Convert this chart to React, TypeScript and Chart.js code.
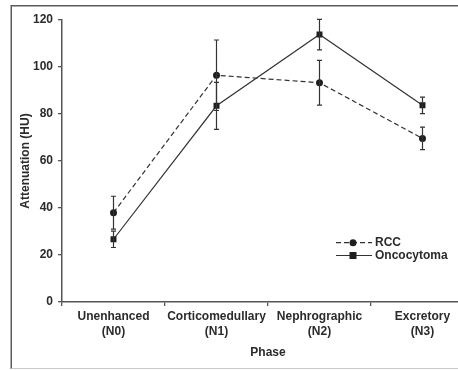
import React, { useEffect, useRef } from "react";
import { Chart, registerables } from "chart.js";

Chart.register(...registerables);

const phaseLabels: string[][] = [
  ["Unenhanced", "(N0)"],
  ["Corticomedullary", "(N1)"],
  ["Nephrographic", "(N2)"],
  ["Excretory", "(N3)"],
];
const rccMean = [38, 96.5, 93.3, 69.6];
const rccErr = [7, 15, 9.5, 4.8];
const oncMean = [26.7, 83.5, 113.8, 83.7];
const oncErr = [3.5, 10, 6.5, 3.5];
const yTicks = [0, 20, 40, 60, 80, 100, 120];
const seriesNames = ["RCC", "Oncocytoma"];

const FONT = "'Liberation Sans', Arial, Helvetica, sans-serif";
const INK = "#2b2b2b";
const LINE = "#333333";

const errors = [rccErr, oncErr];

const framePlugin = {
  id: "frame",
  beforeDraw(chart: any) {
    const ctx = chart.ctx;
    ctx.save();
    ctx.fillStyle = "#ffffff";
    ctx.fillRect(0, 0, chart.width, chart.height);
    ctx.strokeStyle = "#5a5a5a";
    ctx.lineWidth = 1.5;
    ctx.beginPath();
    ctx.moveTo(chart.width + 5, 5.75);
    ctx.lineTo(11.25, 5.75);
    ctx.lineTo(11.25, 369);
    ctx.stroke();
    ctx.strokeStyle = "#c8c8c8";
    ctx.lineWidth = 1;
    ctx.beginPath();
    ctx.moveTo(11.25, 368.5);
    ctx.lineTo(chart.width + 5, 368.5);
    ctx.stroke();
    ctx.restore();
  },
};

const errorBarPlugin = {
  id: "errorBars",
  afterDatasetsDraw(chart: any) {
    const ctx = chart.ctx;
    const yScale = chart.scales.y;
    ctx.save();
    ctx.strokeStyle = LINE;
    ctx.lineWidth = 1.2;
    chart.data.datasets.forEach((ds: any, di: number) => {
      const meta = chart.getDatasetMeta(di);
      ds.data.forEach((v: number, i: number) => {
        const e = errors[di][i];
        const x = meta.data[i].x;
        const yt = yScale.getPixelForValue(v + e);
        const yb = yScale.getPixelForValue(v - e);
        ctx.beginPath();
        ctx.moveTo(x, yt);
        ctx.lineTo(x, yb);
        ctx.moveTo(x - 2.5, yt);
        ctx.lineTo(x + 2.5, yt);
        ctx.moveTo(x - 2.5, yb);
        ctx.lineTo(x + 2.5, yb);
        ctx.stroke();
      });
    });
    ctx.restore();
  },
};

const legendPlugin = {
  id: "customLegend",
  afterDraw(chart: any) {
    const ctx = chart.ctx;
    const area = chart.chartArea;
    const x0 = area.left + 274;
    const y0 = area.top + 222.7;
    ctx.save();
    chart.data.datasets.forEach((ds: any, i: number) => {
      const y = y0 + i * 12.8;
      ctx.strokeStyle = LINE;
      ctx.lineWidth = 1.2;
      ctx.setLineDash(ds.borderDash || []);
      ctx.beginPath();
      ctx.moveTo(x0, y);
      ctx.lineTo(x0 + 36, y);
      ctx.stroke();
      ctx.setLineDash([]);
      ctx.fillStyle = "#1e1e1e";
      const mx = x0 + 17;
      if (ds.pointStyle === "rect") {
        ctx.fillRect(mx - 3.5, y - 3.5, 7, 7);
      } else {
        ctx.beginPath();
        ctx.arc(mx, y, 3.5, 0, Math.PI * 2);
        ctx.fill();
      }
      ctx.fillStyle = INK;
      ctx.font = `bold 12px ${FONT}`;
      ctx.textBaseline = "middle";
      ctx.textAlign = "left";
      ctx.fillText(ds.label, x0 + 39, y);
    });
    ctx.restore();
  },
};

export default function App() {
  const ref = useRef<HTMLCanvasElement | null>(null);

  useEffect(() => {
    if (!ref.current) return;
    const chart = new Chart(ref.current, {
      type: "line",
      data: {
        labels: phaseLabels,
        datasets: [
          {
            label: seriesNames[0],
            data: rccMean,
            borderColor: LINE,
            borderWidth: 1.2,
            borderDash: [5, 3],
            pointStyle: "circle",
            pointRadius: 3.5,
            pointBackgroundColor: "#1e1e1e",
            pointBorderColor: "#1e1e1e",
            pointBorderWidth: 0,
            fill: false,
            tension: 0,
          },
          {
            label: seriesNames[1],
            data: oncMean,
            borderColor: LINE,
            borderWidth: 1.2,
            pointStyle: "rect",
            pointRadius: 4.2,
            pointBackgroundColor: "#1e1e1e",
            pointBorderColor: "#1e1e1e",
            pointBorderWidth: 0,
            fill: false,
            tension: 0,
          },
        ],
      },
      options: {
        responsive: false,
        animation: false,
        events: [],
        layout: { padding: { top: 20, left: 0, right: 26, bottom: 0 } },
        plugins: {
          legend: { display: false },
          tooltip: { enabled: false },
          title: { display: false },
        },
        scales: {
          x: {
            type: "category",
            offset: true,
            afterFit: (s: any) => {
              s.height = 68;
            },
            grid: {
              offset: true,
              drawOnChartArea: false,
              drawTicks: true,
              tickLength: 4,
              color: "#555555",
              lineWidth: 1.3,
            },
            border: { display: true, color: "#555555", width: 1.5 },
            ticks: {
              color: INK,
              padding: 3,
              maxRotation: 0,
              autoSkip: false,
              font: { family: FONT, size: 12, weight: "bold", lineHeight: 1.25 },
            },
            title: {
              display: true,
              text: "Phase",
              color: INK,
              padding: { top: 0, bottom: 10 },
              font: { family: FONT, size: 12, weight: "bold" },
            },
          },
          y: {
            min: 0,
            max: 120,
            afterFit: (s: any) => {
              s.width = 62;
            },
            afterBuildTicks: (s: any) => {
              s.ticks = yTicks.map((v) => ({ value: v }));
            },
            grid: {
              drawOnChartArea: false,
              drawTicks: true,
              tickLength: 4,
              color: "#555555",
              lineWidth: 1.3,
            },
            border: { display: true, color: "#555555", width: 1.5 },
            ticks: {
              color: INK,
              padding: 5,
              font: { family: FONT, size: 12, weight: "bold" },
            },
            title: {
              display: true,
              text: "Attenuation (HU)",
              color: INK,
              padding: { top: 18, bottom: 0 },
              font: { family: FONT, size: 12, weight: "bold" },
            },
          },
        },
      },
      plugins: [framePlugin, errorBarPlugin, legendPlugin],
    } as any);
    return () => chart.destroy();
  }, []);

  return (
    <div
      style={{
        position: "fixed",
        left: 0,
        top: 0,
        width: 458,
        height: 370,
        overflow: "hidden",
        background: "#fff",
      }}
    >
      <canvas
        ref={ref}
        width={500}
        height={370}
        style={{ position: "absolute", left: 0, top: 0, width: 500, height: 370 }}
      />
    </div>
  );
}
